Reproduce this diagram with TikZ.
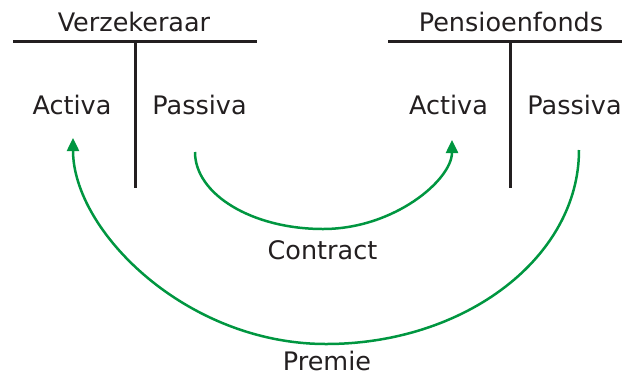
\documentclass[tikz,border=0pt]{standalone}
\usepackage{fontspec}
\setmainfont{DejaVu Sans}
\usetikzlibrary{arrows.meta}
\definecolor{ink}{RGB}{35,31,32}
\definecolor{flow}{RGB}{0,150,64}
\begin{document}
\begin{tikzpicture}[x=1pt,y=-1pt,
  lbl/.style={inner sep=0pt,anchor=base,text=ink,font=\fontsize{25.5}{30}\selectfont},
  tline/.style={draw=ink,line width=3pt},
  flowarrow/.style={draw=flow,line width=2.5pt,-{Triangle[width=12pt,length=13pt]}}]
\useasboundingbox (0,0) rectangle (622,376);
% Verzekeraar T-account
\node[lbl] (verz) at (134,31) {Verzekeraar};
\node[lbl] (actL) at (72,114) {Activa};
\node[lbl] (pasL) at (199.5,114) {Passiva};
\coordinate (tlA) at (13,41);
\coordinate (tlB) at (257,41);
\coordinate (tlT) at (135,41);
\coordinate (tlD) at (135,188);
\draw[tline] (tlA) -- (tlB);
\draw[tline] (tlT) -- (tlD);
% Pensioenfonds T-account
\node[lbl] (pens) at (511,31) {Pensioenfonds};
\node[lbl] (actR) at (448.5,114) {Activa};
\node[lbl] (pasR) at (574.5,114) {Passiva};
\coordinate (trA) at (388,41);
\coordinate (trB) at (622,41);
\coordinate (trT) at (510,41);
\coordinate (trD) at (510,188);
\draw[tline] (trA) -- (trB);
\draw[tline] (trT) -- (trD);
% labels of the flows
\node[lbl] (contract) at (322.5,259) {Contract};
\node[lbl] (premie) at (327,370.5) {Premie};
% Contract arrow
\coordinate (cS) at ([shift={(-4.5,38)}]pasL.base);
\coordinate (cE) at ([shift={(3.5,26)}]actR.base);
\draw[flowarrow] (cS) .. controls (195,194.5) and (252.3,229) .. (323,229)
   .. controls (394.2,229) and (452,179.8) .. (cE);
% Premie arrow
\coordinate (pS) at ([shift={(4.5,36)}]pasR.base);
\coordinate (pE) at ([shift={(1,24)}]actL.base);
\draw[flowarrow] (pS) .. controls (579,257) and (465.7,344) .. (326,344)
   .. controls (186.3,344) and (73,231) .. (pE);
\end{tikzpicture}
\end{document}
